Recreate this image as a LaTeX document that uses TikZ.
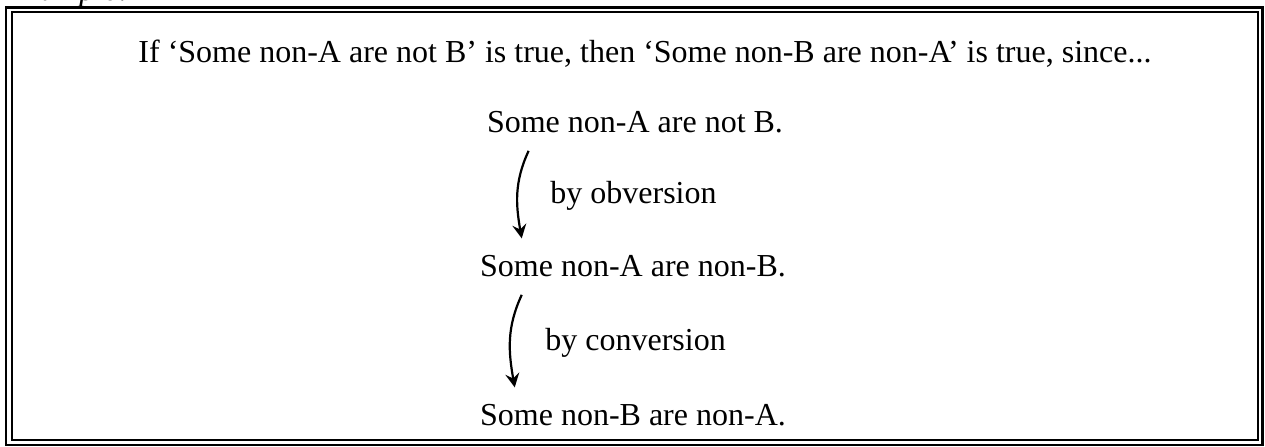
\documentclass[tikz,border=0pt]{standalone}
\usepackage{fontspec}
\setmainfont{Liberation Serif}
\usetikzlibrary{arrows.meta}

\tikzset{
  prop/.style={anchor=base,inner sep=0pt},
  reason/.style={anchor=base west,inner sep=0pt},
  infer/.style={line width=1.1pt,-{Stealth[length=7pt,width=7pt,inset=2.5pt]}},
}

\begin{document}
\begin{tikzpicture}[x=0.5pt,y=0.5pt,font=\fontsize{16}{20}\selectfont]
\useasboundingbox (0,0) rectangle (1265,446);
\clip (0,0) rectangle (1265,446);

% frame
\draw[line width=1.1pt] (6,1) rectangle (1262.5,438.5);
\draw[line width=1pt] (11.5,6) rectangle (1257.5,434);
\node[anchor=base west,inner sep=0pt,font=\fontsize{16}{20}\selectfont\itshape] (ex) at (6,446) {Example:};

\node[prop] (title) at (645,384) {If ‘Some non-A are not B’ is true, then ‘Some non-B are non-A’ is true, since...};

\node[prop] (prop1) at (635,314) {Some non-A are not B.};
\node[prop] (prop2) at (633,170) {Some non-A are non-B.};
\node[prop] (prop3) at (633,21) {Some non-B are non-A.};

\node[reason] (obv) at (550,243) {by obversion};
\node[reason] (conv) at (545,96) {by conversion};

\draw[infer] ([xshift=21pt,yshift=-9pt]prop1.south west) to[out=245,in=100] ([xshift=21pt,yshift=8pt]prop2.north west);
\draw[infer] ([xshift=21pt,yshift=-9pt]prop2.south west) to[out=245,in=100] ([xshift=17.5pt,yshift=8pt]prop3.north west);
\end{tikzpicture}
\end{document}
